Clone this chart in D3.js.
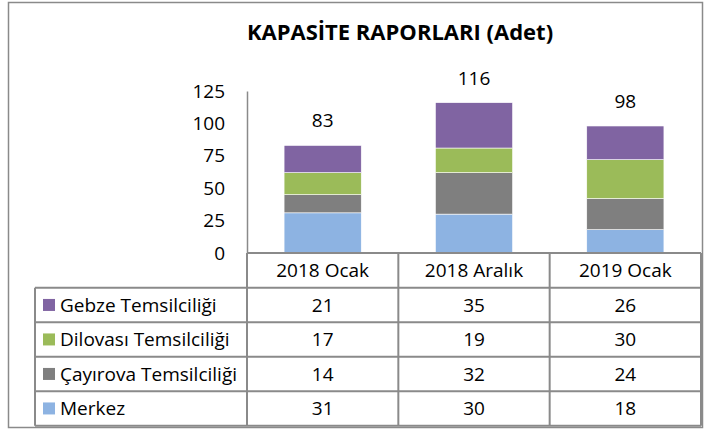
<!DOCTYPE html>
<html>
<head>
<meta charset="utf-8">
<script src="https://cdn.jsdelivr.net/npm/d3@7"></script>
<style>
  body { margin: 0; background: #fff; }
  text { font-family: "Open Sans", Lato, sans-serif; fill: #000; }
</style>
</head>
<body>
<svg id="chart"></svg>
<script>
var width = 706;
var height = 430;

// data
var categories = ["2018 Ocak", "2018 Aralık", "2019 Ocak"];
var seriesNames = ["Merkez", "Çayırova Temsilciliği", "Dilovası Temsilciliği", "Gebze Temsilciliği"];
var merkez = [31, 30, 18];
var cayirova = [14, 32, 24];
var dilovasi = [17, 19, 30];
var gebze = [21, 35, 26];
var yTicks = [0, 25, 50, 75, 100, 125];
var colors = ["#8DB3E2", "#7F7F7F", "#9BBB59", "#8064A2"];
var title = "KAPASİTE RAPORLARI (Adet)";

var seriesValues = [merkez, cayirova, dilovasi, gebze];

var plotLeft = 247, plotRight = 701, plotTop = 91, plotBottom = 253;
var tableLeft = 35, rowH = 34.5, headerH = 34.7;
var fontSize = 19;

var svg = d3.select('#chart')
  .attr('width', width)
  .attr('height', height);

// outer frame
svg.append('rect')
  .attr('x', 8.5).attr('y', 2.5)
  .attr('width', 694).attr('height', 425)
  .attr('fill', '#fff')
  .attr('stroke', '#8a8a8a')
  .attr('stroke-width', 1.5);

svg.append('text')
  .attr('x', 400).attr('y', 40)
  .attr('text-anchor', 'middle')
  .style('font-weight', 'bold')
  .style('font-size', '22px')
  .text(title);

var x = d3.scaleBand()
  .domain(categories)
  .range([plotLeft, plotRight])
  .paddingInner(0.49)
  .paddingOuter(0.245);

var xCol = d3.scaleBand()
  .domain(categories)
  .range([plotLeft, plotRight]);

var y = d3.scaleLinear()
  .domain([0, 125])
  .range([plotBottom, plotTop]);

// stacked data
var rows = categories.map(function(c, i){
  var r = {cat: c};
  seriesNames.forEach(function(s, j){ r[s] = seriesValues[j][i]; });
  return r;
});
var stacked = d3.stack().keys(seriesNames)(rows);

// y axis
var yAxis = d3.axisLeft(y).tickValues(yTicks).tickSize(0).tickPadding(22);
var ga = svg.append('g')
  .attr('transform', 'translate(' + plotLeft + ',0)')
  .call(yAxis);
ga.select('.domain').attr('stroke', '#8a8a8a').attr('stroke-width', 1.5);
ga.selectAll('text')
  .style('font-family', '"Open Sans", sans-serif')
  .style('font-size', fontSize + 'px')
  .attr('fill', '#000');

// bars
svg.append('g').selectAll('g')
  .data(stacked)
  .enter().append('g')
  .attr('fill', function(d, i){ return colors[i]; })
  .selectAll('rect')
  .data(function(d){ return d; })
  .enter().append('rect')
  .attr('x', function(d){ return x(d.data.cat); })
  .attr('width', x.bandwidth())
  .attr('y', function(d){ return y(d[1]); })
  .attr('height', function(d){ return y(d[0]) - y(d[1]); })
  .attr('stroke', '#fff')
  .attr('stroke-width', 0.6);

// totals
svg.append('g').selectAll('text')
  .data(rows)
  .enter().append('text')
  .attr('x', function(d){ return x(d.cat) + x.bandwidth() / 2; })
  .attr('y', function(d){
    var t = d3.sum(seriesNames, function(s){ return d[s]; });
    return y(t) - 18;
  })
  .attr('text-anchor', 'middle')
  .style('font-size', fontSize + 'px')
  .text(function(d){ return d3.sum(seriesNames, function(s){ return d[s]; }); });

// data table
var tableRows = seriesNames.slice().reverse();
var tableTop = plotBottom + headerH;
var tableBottom = tableTop + rowH * tableRows.length;
var grid = svg.append('g')
  .attr('stroke', '#8a8a8a')
  .attr('stroke-width', 2)
  .attr('fill', 'none');

grid.append('line').attr('x1', plotLeft).attr('x2', plotRight).attr('y1', plotBottom).attr('y2', plotBottom);
grid.selectAll('.hl')
  .data(d3.range(tableRows.length + 1))
  .enter().append('line')
  .attr('x1', tableLeft).attr('x2', plotRight)
  .attr('y1', function(i){ return tableTop + i * rowH; })
  .attr('y2', function(i){ return tableTop + i * rowH; });
grid.append('line').attr('x1', tableLeft).attr('x2', tableLeft).attr('y1', tableTop).attr('y2', tableBottom);
grid.selectAll('.vl')
  .data(categories.map(function(c){ return xCol(c); }).concat([plotRight]))
  .enter().append('line')
  .attr('x1', function(d){ return d; }).attr('x2', function(d){ return d; })
  .attr('y1', plotBottom).attr('y2', tableBottom);

// header labels
svg.append('g').selectAll('text')
  .data(categories)
  .enter().append('text')
  .attr('x', function(d){ return xCol(d) + xCol.bandwidth() / 2; })
  .attr('y', plotBottom + headerH / 2)
  .attr('dy', '0.35em')
  .attr('text-anchor', 'middle')
  .style('font-size', fontSize + 'px')
  .text(function(d){ return d; });

// rows
var rowG = svg.append('g').selectAll('g')
  .data(tableRows)
  .enter().append('g')
  .attr('transform', function(d, i){ return 'translate(0,' + (tableTop + i * rowH + rowH / 2) + ')'; });

rowG.append('rect')
  .attr('x', 43).attr('y', -6)
  .attr('width', 12).attr('height', 12)
  .attr('fill', function(d){ return colors[seriesNames.indexOf(d)]; });

rowG.append('text')
  .attr('x', 60)
  .attr('dy', '0.35em')
  .style('font-size', fontSize + 'px')
  .text(function(d){ return d; });

rowG.selectAll('.val')
  .data(function(d){
    var j = seriesNames.indexOf(d);
    return categories.map(function(c, i){ return {cat: c, v: seriesValues[j][i]}; });
  })
  .enter().append('text')
  .attr('x', function(d){ return xCol(d.cat) + xCol.bandwidth() / 2; })
  .attr('dy', '0.35em')
  .attr('text-anchor', 'middle')
  .style('font-size', fontSize + 'px')
  .text(function(d){ return d.v; });
</script>
</body>
</html>
